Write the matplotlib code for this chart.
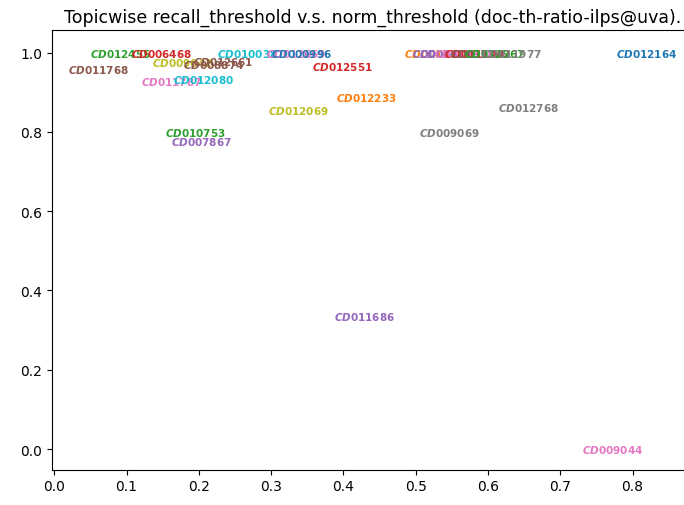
import matplotlib
matplotlib.use("Agg")
import matplotlib.pyplot as plt

plt.rcParams["mathtext.fontset"] = "custom"
plt.rcParams["mathtext.it"] = "DejaVu Sans:italic:bold"
plt.rcParams["mathtext.rm"] = "DejaVu Sans:bold"

topics = ["CD012455", "CD006468", "CD011768", "CD009642", "CD012661", "CD008874",
          "CD011787", "CD012080", "CD010753", "CD007867", "CD010038", "CD012669",
          "CD000996", "CD012551", "CD012233", "CD012069", "CD011686",
          "CD001261", "CD004414", "CD010239", "CD010558", "CD011140", "CD012342",
          "CD012567", "CD011977", "CD012164", "CD012768", "CD009069", "CD009044"]
norm_threshold = [0.091, 0.148, 0.061, 0.177, 0.234, 0.221,
                  0.162, 0.206, 0.195, 0.203, 0.267, 0.335,
                  0.342, 0.398, 0.432, 0.3375, 0.429,
                  0.526, 0.537, 0.546, 0.567, 0.581, 0.590,
                  0.609, 0.632, 0.820, 0.656, 0.547, 0.773]
recall_threshold = [1.0, 1.0, 0.959, 0.977, 0.979, 0.970,
                    0.929, 0.934, 0.799, 0.778, 1.0, 1.0,
                    1.0, 0.965, 0.887, 0.856, 0.335,
                    1.0, 1.0, 1.0, 1.0, 1.0, 1.0,
                    1.0, 1.0, 1.0, 0.862, 0.80, 0.0]
colors = ["tab:green", "tab:red", "tab:brown", "tab:olive", "tab:brown", "tab:brown",
          "tab:pink", "tab:cyan", "tab:green", "tab:purple", "tab:cyan", "tab:pink",
          "tab:blue", "tab:red", "tab:orange", "tab:olive", "tab:purple",
          "tab:orange", "tab:purple", "tab:purple", "tab:pink", "tab:red", "tab:brown",
          "tab:green", "tab:gray", "tab:blue", "tab:gray", "tab:gray", "tab:pink"]

fig = plt.figure(figsize=(6.84, 5.06), dpi=100)
ax = fig.add_axes([52 / 684, 35.3 / 506, (693.3 - 52) / 684, (470.7 - 31) / 506])

for t, x, y, c in zip(topics, norm_threshold, recall_threshold, colors):
    ax.text(x, y, "$" + t[:2] + "$" + t[2:], color=c, fontsize=7.5, fontweight="bold",
            ha="center", va="center")

ax.set_xlim(-0.0032, 0.884)
ax.set_ylim(-0.052, 1.057)
ax.set_xticks([0.0, 0.1, 0.2, 0.3, 0.4, 0.5, 0.6, 0.7, 0.8])
ax.set_yticks([0.0, 0.2, 0.4, 0.6, 0.8, 1.0])
ax.set_title("Topicwise recall_threshold v.s. norm_threshold (doc-th-ratio-ilps@uva).", fontsize=12.5)

fig.savefig("out.png", dpi=100)
